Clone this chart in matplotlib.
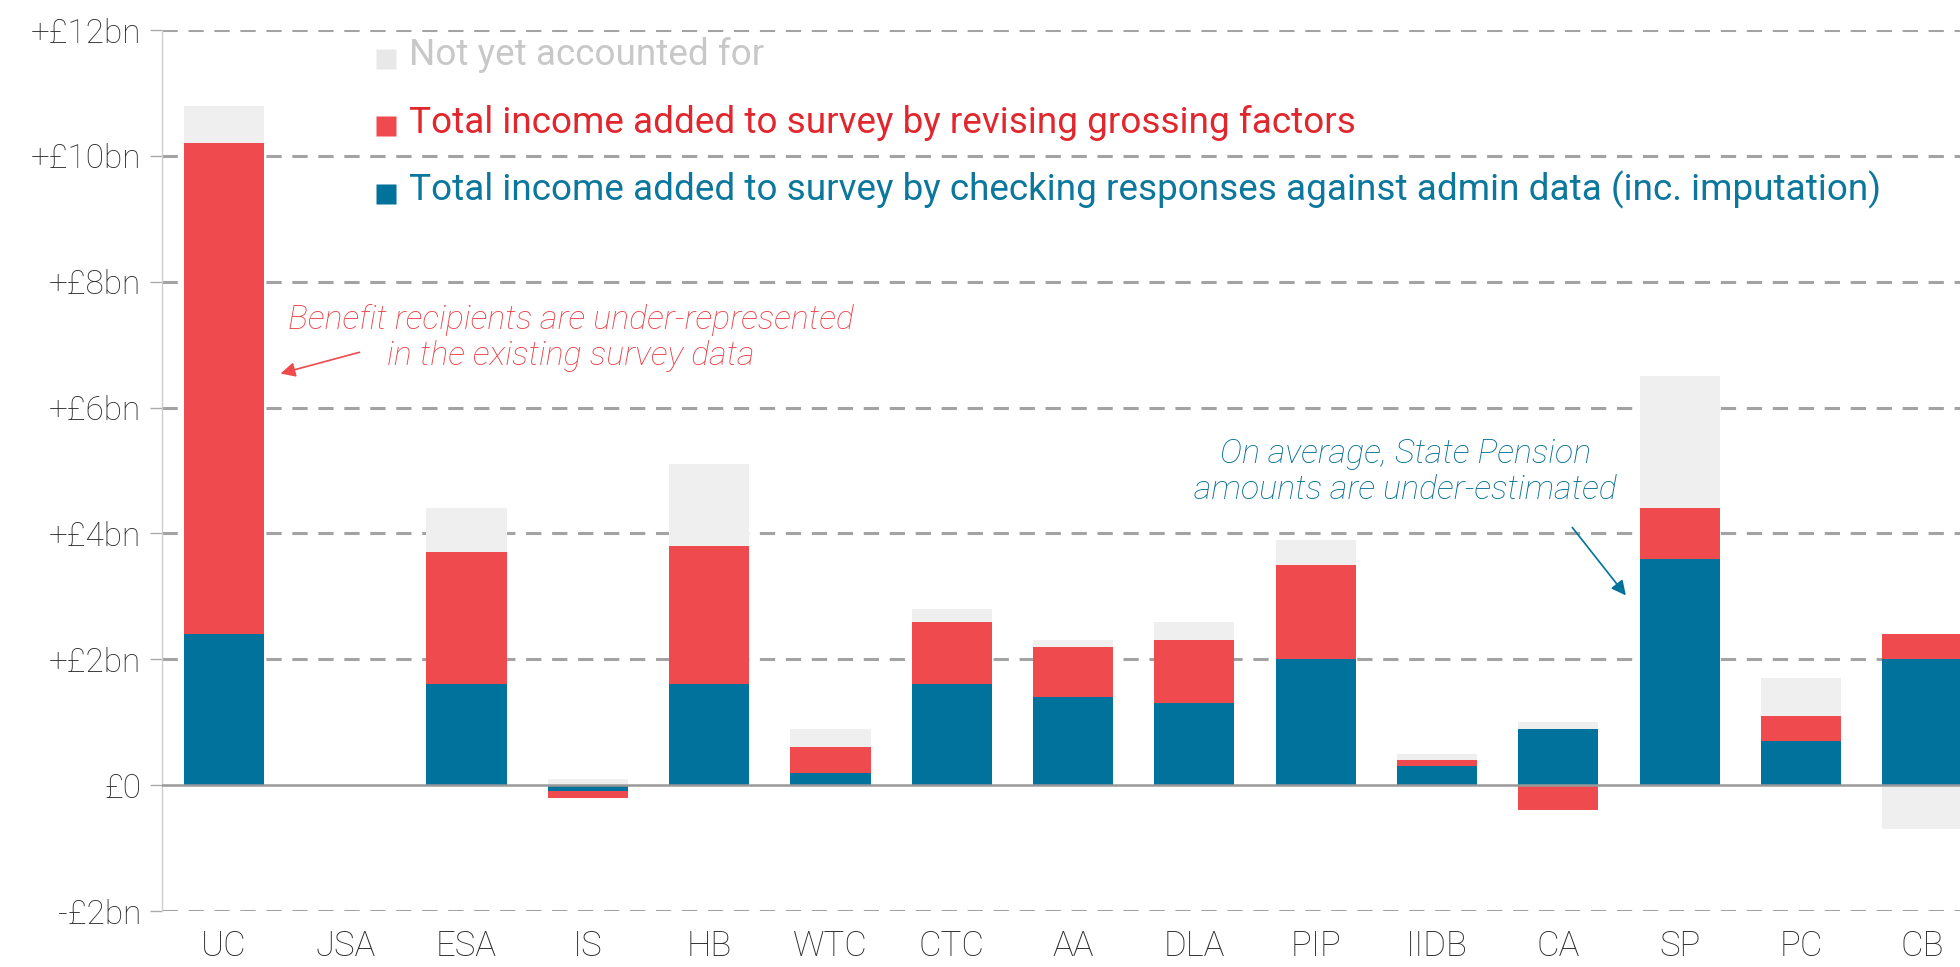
import numpy as np
import matplotlib.pyplot as plt

# benefits, £bn
benefits = ["UC", "JSA", "ESA", "IS", "HB", "WTC", "CTC", "AA", "DLA", "PIP", "IIDB", "CA", "SP", "PC", "CB"]
admin_check = [2.4, 0.0, 1.6, -0.1, 1.6, 0.2, 1.6, 1.4, 1.3, 2.0, 0.3, 0.9, 3.6, 0.7, 2.0]
grossing = [7.8, 0.0, 2.1, -0.1, 2.2, 0.4, 1.0, 0.8, 1.0, 1.5, 0.1, -0.4, 0.8, 0.4, 0.4]
not_accounted = [0.6, 0.0, 0.7, 0.1, 1.3, 0.3, 0.2, 0.1, 0.3, 0.4, 0.1, 0.1, 2.1, 0.6, -0.7]

yticks = [-2, 0, 2, 4, 6, 8, 10, 12]
ytick_labels = ["-£2bn", "£0", "+£2bn", "+£4bn", "+£6bn", "+£8bn", "+£10bn", "+£12bn"]

BLUE = "#00729c"
RED = "#ef4a4e"
GREY = "#efefef"

plt.rcParams['font.family'] = ["Roboto", "DejaVu Sans"]

fig = plt.figure(figsize=(19.6, 9.67), dpi=100)
ax = fig.add_axes([162 / 1960, 1 - 911 / 967, 1 - 162 / 1960, (911 - 30) / 967])

x = np.arange(len(benefits))
pos = np.zeros(len(x))
neg = np.zeros(len(x))
for vals, col in [(admin_check, BLUE), (grossing, RED), (not_accounted, GREY)]:
    vals = np.array(vals)
    bottom = np.where(vals >= 0, pos, neg)
    ax.bar(x, vals, 0.66, bottom=bottom, color=col, zorder=3, linewidth=0)
    pos = pos + np.where(vals >= 0, vals, 0)
    neg = neg + np.where(vals < 0, vals, 0)

for t in yticks:
    if t == 0:
        ax.axhline(0, color="#999999", lw=1.8, zorder=4)
    else:
        ax.axhline(t, color="#a3a3a3", lw=2.2, ls=(0, (5, 3.5)), zorder=1)

ax.set_xlim(-0.51, 14.31)
ax.set_ylim(-2, 12)
ax.set_xticks(x)
ax.set_xticklabels(benefits, fontsize=25, color="#2a2a2a", fontweight="light")
ax.set_yticks(yticks)
ax.set_yticklabels(ytick_labels, fontsize=24, color="#2a2a2a", fontweight="light")
ax.tick_params(axis="x", length=0, pad=13)
ax.tick_params(axis="y", length=9, color="#aaaaaa", width=1, pad=6)
for s in ["top", "right", "bottom"]:
    ax.spines[s].set_visible(False)
ax.spines["left"].set_color("#cccccc")
ax.spines["left"].set_linewidth(1)

# legend
legend = [("Not yet accounted for", "#e8e8e8", "#c8c8c8"),
          ("Total income added to survey by revising grossing factors", RED, "#e2262d"),
          ("Total income added to survey by checking responses against admin data (inc. imputation)", BLUE, "#0b779d")]
for i, (lab, sq, tc) in enumerate(legend):
    yy = 11.6 - 1.07 * i
    ax.plot([1.34], [yy - 0.06], marker="s", ms=15, color=sq, mec="none", zorder=5, clip_on=False)
    ax.text(1.53, yy, lab, fontsize=26.6, color=tc, va="center", ha="left", zorder=5)

ax.text(2.86, 7.1, "Benefit recipients are under-represented\nin the existing survey data",
        fontsize=24.5, style="italic", fontweight="light", color="#ea3f44",
        ha="center", va="center", linespacing=1.15, zorder=5)
ax.annotate("", xy=(0.445, 6.53), xytext=(1.14, 6.89),
            arrowprops=dict(arrowstyle="-|>", color=RED, lw=1.2, mutation_scale=22), zorder=5)

ax.text(9.74, 4.98, "On average, State Pension\namounts are under-estimated",
        fontsize=24.5, style="italic", fontweight="light", color="#006c94",
        ha="center", va="center", linespacing=1.15, zorder=5)
ax.annotate("", xy=(11.57, 2.98), xytext=(11.1, 4.13),
            arrowprops=dict(arrowstyle="-|>", color=BLUE, lw=1.2, mutation_scale=22), zorder=5)

fig.savefig("out.png", dpi=100)
